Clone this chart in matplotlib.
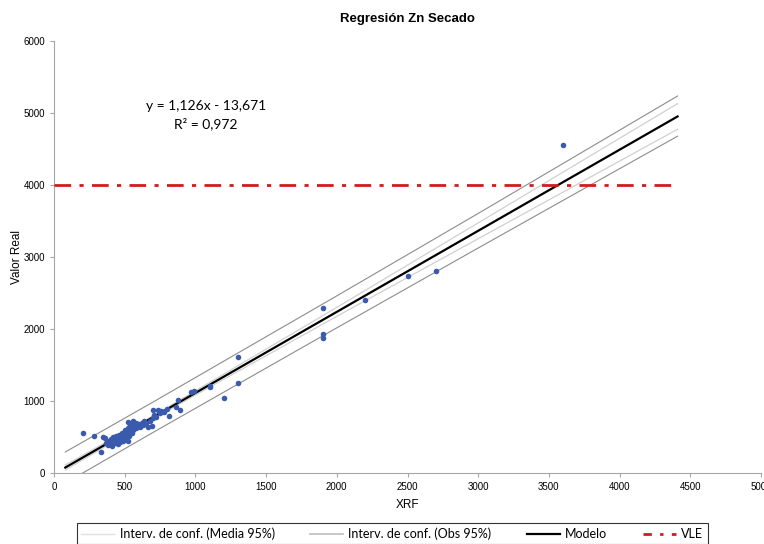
import numpy as np
import matplotlib
matplotlib.use("Agg")
import matplotlib.pyplot as plt
from matplotlib.lines import Line2D

# XRF vs valor real (lecturas estimadas del grafico)
xrf = [203, 285, 332, 344, 361, 370, 380, 390, 400, 400, 410, 410, 420, 420, 430,
       430, 440, 440, 450, 450, 460, 460, 470, 470, 480, 480, 490, 490, 500, 500,
       500, 510, 510, 520, 520, 526, 530, 530, 540, 540, 550, 550, 556, 560, 560,
       570, 580, 580, 590, 600, 610, 620, 630, 640, 650, 662, 680, 690, 700, 702,
       710, 720, 738, 750, 760, 780, 800, 810, 860, 880, 890, 970, 990, 1100, 1100,
       1200, 1300, 1300, 1900, 1900, 1900, 2200, 2500, 2700, 3600]
real = [560, 510, 296, 496, 482, 420, 390, 450, 400, 470, 430, 380, 450, 500, 410,
        470, 440, 520, 480, 400, 460, 530, 500, 430, 560, 470, 520, 450, 540, 600,
        480, 560, 500, 620, 450, 713, 580, 520, 600, 660, 560, 620, 726, 600, 690,
        640, 620, 700, 660, 680, 640, 700, 660, 720, 700, 643, 720, 653, 760, 875,
        800, 780, 875, 840, 861, 850, 889, 796, 921, 1014, 875, 1129, 1139, 1212, 1190,
        1037, 1607, 1250, 2296, 1935, 1871, 2407, 2736, 2810, 4555]

x_band = [80, 700, 2000, 3000, 4410]
modelo = [76, 774, 2238, 3364, 4952]
obs_sup = [292, 985, 2460, 3605, 5236]
obs_inf = [-140, 563, 2016, 3125, 4678]
media_sup = [111, 794, 2300, 3474, 5130]
media_inf = [41, 754, 2176, 3254, 4774]
vle_x = [0, 4420]
vle_y = [4000, 4000]

plt.rcParams["font.family"] = ["Liberation Sans", "DejaVu Sans"]

fig = plt.figure(figsize=(7.64, 5.44), dpi=100)
ax = fig.add_axes([54 / 764, 71 / 544, 707 / 764, 432 / 544])

c_media = "#D0D0D0"
c_obs = "#8C8C8C"
ax.plot(x_band, media_sup, color=c_media, lw=0.9, zorder=2)
ax.plot(x_band, media_inf, color=c_media, lw=0.9, zorder=2)
ax.plot(x_band, obs_sup, color=c_obs, lw=0.8, zorder=2)
ax.plot(x_band, obs_inf, color=c_obs, lw=0.8, zorder=2)
ax.plot(x_band, modelo, color="black", lw=1.6, zorder=3)
ax.plot(vle_x, vle_y, color="#D01C1C", lw=2.0, dashes=(6, 3, 1.5, 3), zorder=3)
ax.scatter(xrf, real, s=16, color="#3A5BAD", zorder=4, linewidths=0)

ax.set_xlim(0, 5000)
ax.set_ylim(0, 6000)
ax.set_xticks(np.arange(0, 5001, 500))
ax.set_yticks(np.arange(0, 6001, 1000))
for s in ["top", "right"]:
    ax.spines[s].set_visible(False)
for s in ["left", "bottom"]:
    ax.spines[s].set_color("#A6A6A6")
    ax.spines[s].set_linewidth(0.8)
ax.tick_params(colors="#A6A6A6", labelcolor="black", labelsize=7, length=3, width=0.8)

ax.set_title("Regresión Zn Secado", fontsize=9.5, fontweight="bold", pad=14)
ax.set_xlabel("XRF", fontsize=8.5, labelpad=5)
ax.set_ylabel("Valor Real", fontsize=8.5)
ax.yaxis.set_label_coords(-0.044, 0.5)

ax.text(1075, 5097, "y = 1,126x - 13,671", ha="center", va="center",
        fontsize=10, family=["Lato", "DejaVu Sans"])
ax.text(1075, 4847, "R² = 0,972", ha="center", va="center",
        fontsize=10, family=["Lato", "DejaVu Sans"])

handles = [
    Line2D([], [], color="#E0E0E0", lw=1.0),
    Line2D([], [], color="#BDBDBD", lw=1.2),
    Line2D([], [], color="black", lw=1.6),
    Line2D([], [], color="#D01C1C", lw=2.0, dashes=(3, 3, 1.2, 3)),
]
labels = ["Interv. de conf. (Media 95%)", "Interv. de conf. (Obs 95%)", "Modelo", "VLE"]
leg = fig.legend(handles, labels, loc="upper left", bbox_to_anchor=(77 / 764, 21 / 544),
                 ncol=4, frameon=True, fancybox=False, edgecolor="black",
                 prop={"family": ["Lato", "DejaVu Sans"], "size": 9},
                 handlelength=2.6, handletextpad=0.45, columnspacing=2.85,
                 borderpad=0.35, borderaxespad=0)
leg.get_frame().set_linewidth(0.8)

fig.savefig("out.png", dpi=100)
